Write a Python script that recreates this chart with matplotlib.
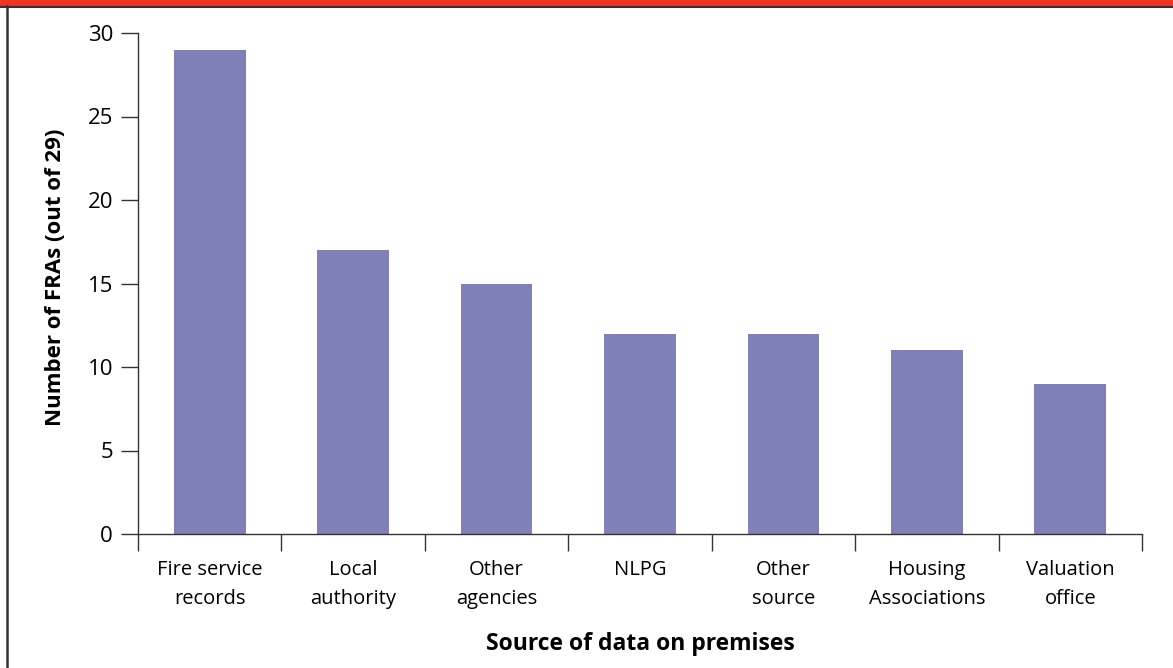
import matplotlib
matplotlib.use("Agg")
import matplotlib.pyplot as plt
from matplotlib.patches import Rectangle
from matplotlib.lines import Line2D

plt.rcParams['font.family'] = ['Open Sans', 'DejaVu Sans']

sources = ["Fire service\nrecords", "Local\nauthority", "Other\nagencies", "NLPG",
           "Other\nsource", "Housing\nAssociations", "Valuation\noffice"]
fra_counts = [29, 17, 15, 12, 12, 11, 9]
y_ticks = [0, 5, 10, 15, 20, 25, 30]

W, H = 1173, 668
fig = plt.figure(figsize=(W / 100, H / 100), dpi=100)

# red banner with a dark rule below it, and the left frame edge
fig.patches.append(Rectangle((0, 1 - 6 / H), 1, 6 / H, transform=fig.transFigure,
                             color="#f03323", zorder=0))
fig.lines.append(Line2D([0, 1], [1 - 7 / H, 1 - 7 / H], transform=fig.transFigure,
                        color="#333333", lw=1.5))
fig.lines.append(Line2D([6.5 / W, 6.5 / W], [0, 1 - 6 / H], transform=fig.transFigure,
                        color="#333333", lw=1.8))

ax = fig.add_axes([138 / W, (H - 534) / H, (1142 - 138) / W, (534 - 33) / H])
x = range(len(sources))
ax.bar(x, fra_counts, width=0.5, color="#8080b8")

ax.set_xlim(-0.5, len(sources) - 0.5)
ax.set_ylim(0, 30)
ax.set_yticks(y_ticks)
ax.set_xticks([i - 0.5 for i in range(len(sources) + 1)], minor=False)
ax.set_xticklabels([])
ax.set_xticks(list(x), minor=True)
ax.set_xticklabels(sources, minor=True, fontsize=14.5, linespacing=1.6)
ax.tick_params(axis="x", which="major", direction="out", length=12, width=1, color="#333333")
ax.tick_params(axis="x", which="minor", length=0, pad=18.5)
ax.tick_params(axis="y", direction="out", length=12, width=1, color="#333333",
               labelsize=16, pad=6)

for side in ("top", "right"):
    ax.spines[side].set_visible(False)
for side in ("left", "bottom"):
    ax.spines[side].set_color("#333333")
    ax.spines[side].set_linewidth(1)

ax.set_xlabel("Source of data on premises", fontsize=16.5, fontweight="bold", labelpad=17)
ax.set_ylabel("Number of FRAs (out of 29)", fontsize=16, fontweight="bold")
ax.yaxis.set_label_coords(-0.072, 0.513)

fig.savefig("out.png", dpi=100)
